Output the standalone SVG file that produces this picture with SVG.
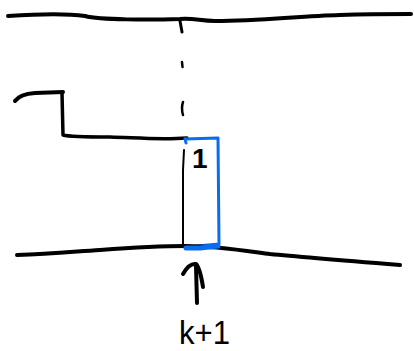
<svg xmlns="http://www.w3.org/2000/svg" width="414" height="351" viewBox="0 0 414 351">
  <style>
    .ink { fill: none; stroke: #000; stroke-linecap: round; stroke-linejoin: round; }
    .blue { fill: none; stroke: #0a6cf0; stroke-linecap: round; stroke-linejoin: round; }
    .hand { font-family: "Liberation Sans", Arial, sans-serif; fill: #000; }
  </style>
  <rect width="414" height="351" fill="#fff"/>

  <!-- upper boundary -->
  <path class="ink" stroke-width="4" d="M8,16 C40,14 70,14 85,16 C100,20 150,20 180,19 C195,18 200,21 215,21 C260,21 300,16 340,15 C370,14 395,14 411,14"/>

  <!-- dashed vertical guide -->
  <path class="ink" stroke-width="3" d="M180,21 L182,32"/>
  <path class="ink" stroke-width="2.5" d="M182,62 L182.5,67"/>
  <path class="ink" stroke-width="2.5" d="M183,102 Q181,108 183,115"/>

  <!-- step profile -->
  <path class="ink" stroke-width="4" d="M15,101 Q20,94 35,93 L63,92"/>
  <path class="ink" stroke-width="3.5" d="M62,93 L63,135 Q70,137 110,137 C140,138 160,140 187,138"/>

  <!-- thin left edge of the column -->
  <path class="ink" stroke-width="2" d="M184,150 L183,170 L183,246"/>

  <!-- highlighted column -->
  <path class="blue" stroke-width="3" d="M185,139 L218,138 L219,244 L186,247"/>
  <path class="blue" stroke-width="3" d="M185,139 L186,143"/>

  <!-- lower boundary -->
  <path class="ink" stroke-width="4" d="M17,255 C50,254 70,252 100,250 C140,247 165,246 186,246 C215,246 240,250 270,254 C300,257 350,261 400,265"/>
  <path class="blue" stroke-width="5" d="M186,248 L200,248 L218,246"/>

  <!-- label inside the column -->
  <text class="hand" x="192" y="168" font-size="28" font-weight="bold">1</text>

  <!-- arrow pointing at the column base -->
  <path class="ink" stroke-width="4" d="M183,274 Q189,263 196,264 Q200,268 203,287"/>
  <path class="ink" stroke-width="4" d="M196,266 L197,303"/>

  <!-- position label -->
  <text class="hand" x="179" y="344" font-size="34" textLength="51" lengthAdjust="spacingAndGlyphs">k+1</text>
</svg>
